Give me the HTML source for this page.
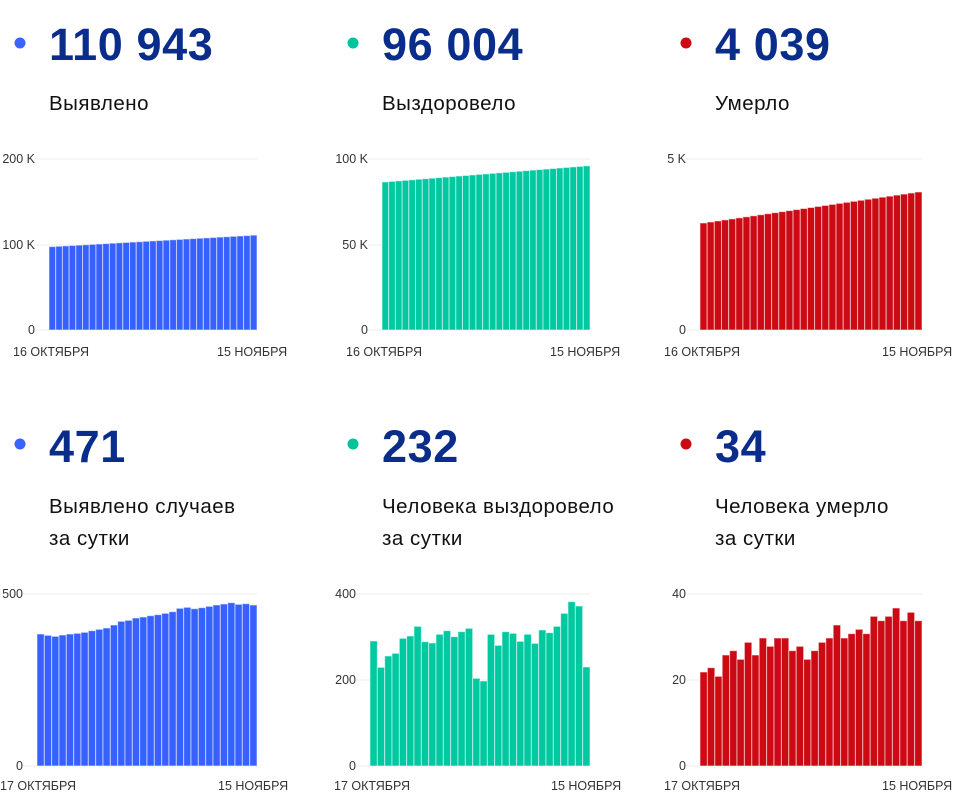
<!DOCTYPE html>
<html><head><meta charset="utf-8">
<style>
html,body{margin:0;padding:0;background:#fff;width:970px;height:797px;overflow:hidden}
svg{display:block}
.num{font-family:"Liberation Sans",sans-serif;font-weight:bold;font-size:45px;fill:#0a2d8c;letter-spacing:0.6px}
.lbl{font-family:"Liberation Sans","DejaVu Sans",sans-serif;font-size:20.5px;fill:#111;letter-spacing:0.5px}
.tk{font-family:"Liberation Sans","DejaVu Sans",sans-serif;font-size:12.5px;fill:#333}
</style></head><body>
<svg id="s" width="970" height="797" xmlns="http://www.w3.org/2000/svg">
<circle cx="20" cy="43" r="5.5" fill="#3a63ff"/>
<circle cx="353" cy="43" r="5.5" fill="#00c39b"/>
<circle cx="686" cy="43" r="5.5" fill="#cc0a14"/>
<text class="num" x="49" y="60">110 943</text>
<text class="num" x="382" y="60">96 004</text>
<text class="num" x="715" y="60">4 039</text>
<text class="lbl" x="49" y="110">Выявлено</text>
<text class="lbl" x="382" y="110">Выздоровело</text>
<text class="lbl" x="715" y="110">Умерло</text>

<circle cx="20" cy="444" r="5.5" fill="#3a63ff"/>
<circle cx="353" cy="444" r="5.5" fill="#00c39b"/>
<circle cx="686" cy="444" r="5.5" fill="#cc0a14"/>
<text class="num" x="49" y="462">471</text>
<text class="num" x="382" y="462">232</text>
<text class="num" x="715" y="462">34</text>
<text class="lbl" x="49" y="513">Выявлено случаев</text>
<text class="lbl" x="49" y="545">за сутки</text>
<text class="lbl" x="382" y="513">Человека выздоровело</text>
<text class="lbl" x="382" y="545">за сутки</text>
<text class="lbl" x="715" y="513">Человека умерло</text>
<text class="lbl" x="715" y="545">за сутки</text>
<g id="g"></g>
</svg>
<script>
var g=document.getElementById('g'),h='';
function chart(x0,x1,yTop,y0,ticks,vals,col,l1,l1x,l2x,ly){
  ticks.forEach(function(t){var y=t[0];
    h+='<line x1="'+(x0-14)+'" x2="'+x1+'" y1="'+y+'" y2="'+y+'" stroke="#ececec" stroke-width="1"/>';
    h+='<text class="tk" x="'+(t[2])+'" y="'+(y+4)+'" text-anchor="end">'+t[1]+'</text>';});
  var n=vals.length,w=(x1-x0)/n;
  vals.forEach(function(v,i){var yt=v;
    h+='<rect x="'+(x0+i*w)+'" y="'+yt+'" width="'+w+'" height="'+(y0-yt)+'" fill="'+col+'" stroke="rgba(255,255,255,0.55)" stroke-width="1"/>';});
  h+='<text class="tk" x="'+l1x+'" y="'+ly+'">'+l1+'</text>';
  h+='<text class="tk" x="'+l2x+'" y="'+ly+'">15 НОЯБРЯ</text>';
}
function lin(a,b,n){var r=[];for(var i=0;i<n;i++)r.push(a+(b-a)*i/(n-1));return r;}
chart(49,257,159,330,[[159,'200 K',35],[245,'100 K',35],[330,'0',35]],lin(330-97.5/200*171,330-110.9/200*171,31),'#3761ff','16 ОКТЯБРЯ',13,217,356);
chart(382,590,159,330,[[159,'100 K',368],[245,'50 K',368],[330,'0',368]],lin(330-86.6/100*171,330-96/100*171,31),'#00c8a0','16 ОКТЯБРЯ',346,550,356);
chart(700,922,159,330,[[159,'5 K',686],[330,'0',686]],lin(223,192,31),'#cc0a14','16 ОКТЯБРЯ',664,882,356);
function z(a){return a.map(function(v){return 580+v/3;});}
chart(37,257,594,766,[[594,'500',23],[766,'0',23]],z([162,166,169,165,162,160,157,152,148,144,135,124,121,114,111,107,104,100,95,85,82,86,83,79,75,72,68,73,71,75]),'#3761ff','17 ОКТЯБРЯ',0,218,790);
chart(370,590,594,766,[[594,'400',356],[680,'200',356],[766,'0',356]],z([183,262,228,220,175,168,139,185,189,163,152,170,155,145,295,303,163,196,155,160,184,163,190,150,158,139,100,65,78,261]),'#00c8a0','17 ОКТЯБРЯ',334,551,790);
chart(700,922,594,766,[[594,'40',686],[680,'20',686],[766,'0',686]],z([276,263,289,225,212,238,187,225,174,199,174,174,212,199,238,212,187,174,135,174,161,148,161,109,122,109,84,122,97,122]),'#cc0a14','17 ОКТЯБРЯ',664,882,790);
g.innerHTML=h;
</script>
</body></html>
